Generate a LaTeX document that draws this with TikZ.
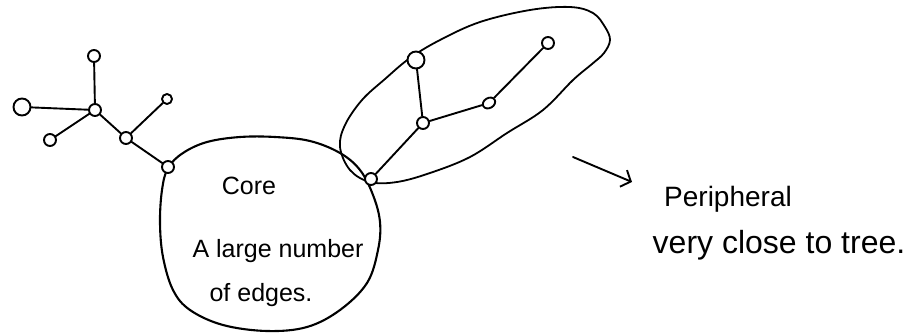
\documentclass[tikz,border=0pt]{standalone}
\usepackage{fontspec}
\setmainfont{Liberation Sans}
\usetikzlibrary{shapes.geometric,arrows.meta}
\begin{document}
\begin{tikzpicture}[x=1pt,y=-1pt,line width=2.1pt,line cap=round,line join=round,
  vtx/.style={circle,draw,fill=white,inner sep=0pt,minimum size=12pt,line width=1.9pt},
  bigvtx/.style={vtx,minimum size=17pt},
  smallvtx/.style={vtx,minimum size=10pt},
  edge/.style={draw,line width=1.9pt},
  region/.style={draw,line width=2.1pt},
  lbl/.style={font=\fontsize{25}{30}\selectfont,inner sep=0pt}]
\useasboundingbox[fill=white] (0,0) rectangle (920,333);
% core region
\draw[region] plot[smooth cycle,tension=0.6] coordinates {
  (168,168) (183,153) (207,142) (240,137) (275,137) (310,141) (340,153)
  (360,170) (373,195) (380,222) (378,250) (367,283) (340,310) (307,327)
  (267,331) (223,325) (190,310) (173,290) (163,257) (160,223) (162,190)};
% peripheral region
\draw[region,line width=1.8pt] plot[smooth cycle,tension=0.6] coordinates {
  (410,58) (440,40) (480,22) (530,10) (570,7) (593,13) (605,27) (610,40)
  (604,53) (592,64) (573,80) (543,110) (507,133) (470,157) (430,173)
  (397,182) (370,182) (350,170) (340,147) (345,125) (362,100) (385,79)};
% left tree
\node[vtx] (A) at (95,110) {};
\node[vtx] (B) at (94,56) {};
\node[bigvtx] (C) at (22,107) {};
\node[vtx] (D) at (50,140) {};
\node[vtx] (E) at (126,138) {};
\node[smallvtx] (F) at (167,99) {};
\node[vtx] (G) at (168,167) {};
\draw[edge] (C) -- (A);
\draw[edge] (B) -- (A);
\draw[edge] (D) -- (A);
\draw[edge] (A) -- (E);
\draw[edge] (E) -- (G);
\draw[edge] (E) -- (F);
% peripheral tree
\node[bigvtx] (H) at (416,60) {};
\node[vtx] (I) at (423,123) {};
\node[ellipse,draw,fill=white,line width=1.9pt,inner sep=0pt,minimum width=13pt,minimum height=10pt,rotate=30] (J) at (489,103) {};
\node[vtx] (K) at (548,43) {};
\node[vtx] (L) at (371,179) {};
\draw[edge] (H) -- (I);
\draw[edge] (I) -- (J);
\draw[edge] (J) -- (K);
\draw[edge] (I) -- (L);
% labels
\node[lbl] (tcore) at (249,186) {Core};
\node[lbl] (tlarge) at (278,251) {A large number};
\node[lbl] (tedges) at (261,295) {of edges.};
% arrow
\coordinate (a1) at (573,157);
\coordinate (a2) at (632,182);
\draw[line width=1.9pt,-{Straight Barb[length=8pt,width=18pt]}] (a1) -- (a2);
\node[lbl,font=\fontsize{28}{32}\selectfont] (tper) at (728,199) {Peripheral};
\node[lbl,font=\fontsize{32}{36}\selectfont] (ttree) at (779,245) {very close to tree.};
\end{tikzpicture}
\end{document}
